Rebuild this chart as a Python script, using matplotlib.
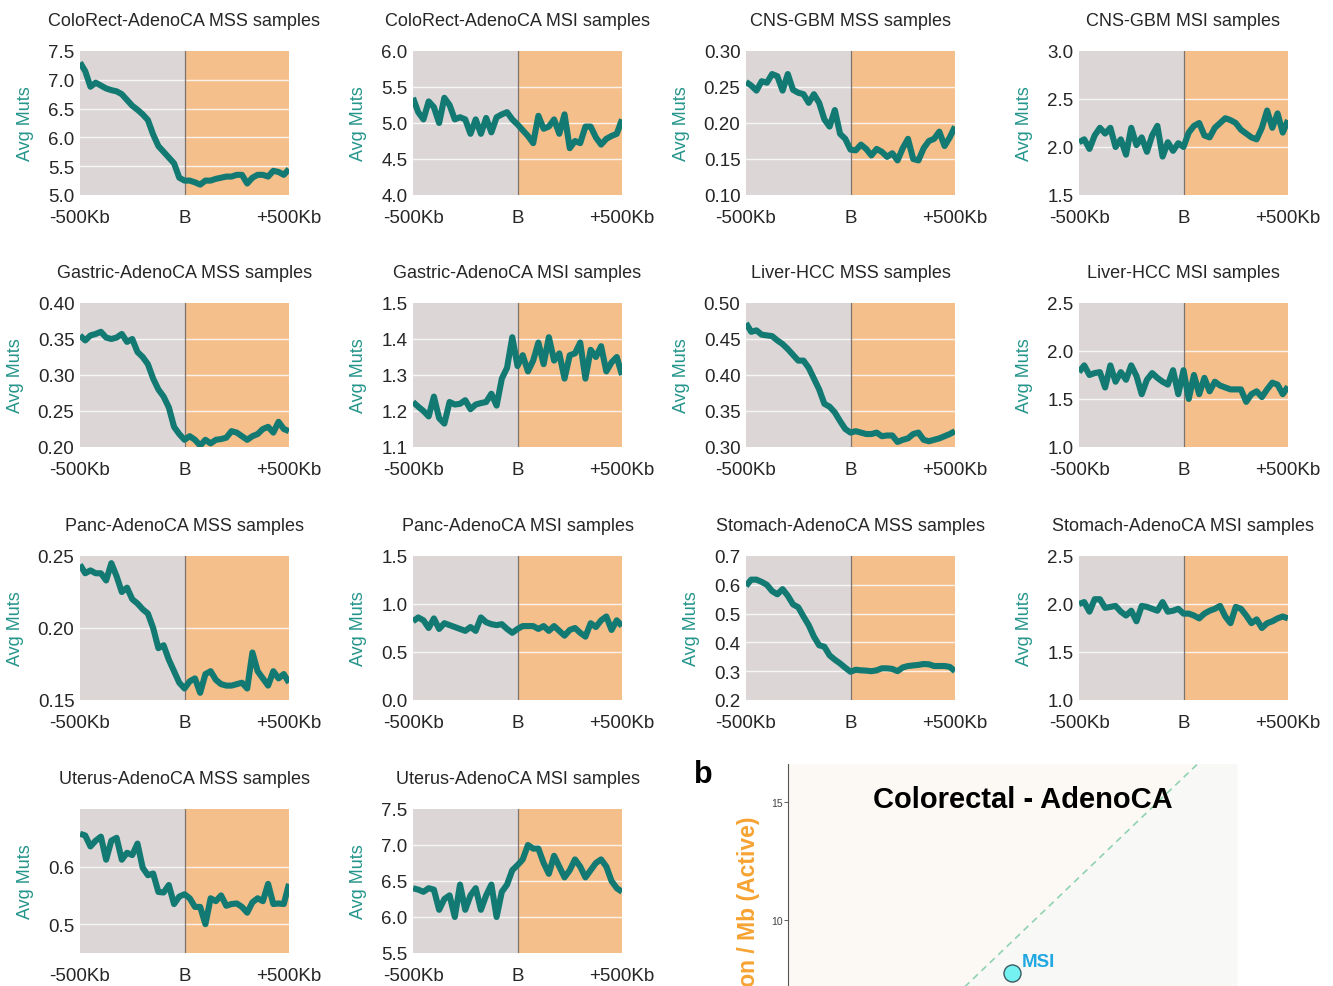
import numpy as np
import matplotlib.pyplot as plt

plt.rcParams['font.family'] = ['Liberation Sans', 'DejaVu Sans']

# distance to the breakpoint (kb), one value every 25 kb
pos_kb = np.arange(-500, 501, 25)

titles = [
    "ColoRect-AdenoCA MSS samples", "ColoRect-AdenoCA MSI samples",
    "CNS-GBM MSS samples", "CNS-GBM MSI samples",
    "Gastric-AdenoCA MSS samples", "Gastric-AdenoCA MSI samples",
    "Liver-HCC MSS samples", "Liver-HCC MSI samples",
    "Panc-AdenoCA MSS samples", "Panc-AdenoCA MSI samples",
    "Stomach-AdenoCA MSS samples", "Stomach-AdenoCA MSI samples",
    "Uterus-AdenoCA MSS samples", "Uterus-AdenoCA MSI samples",
]

ylims = [
    (5.0, 7.5), (4.0, 6.0), (0.10, 0.30), (1.5, 3.0),
    (0.20, 0.40), (1.1, 1.5), (0.30, 0.50), (1.0, 2.5),
    (0.15, 0.25), (0.0, 1.5), (0.2, 0.7), (1.0, 2.5),
    (0.45, 0.70), (5.5, 7.5),
]

ytick_labels = [
    ["5.0", "5.5", "6.0", "6.5", "7.0", "7.5"],
    ["4.0", "4.5", "5.0", "5.5", "6.0"],
    ["0.10", "0.15", "0.20", "0.25", "0.30"],
    ["1.5", "2.0", "2.5", "3.0"],
    ["0.20", "0.25", "0.30", "0.35", "0.40"],
    ["1.1", "1.2", "1.3", "1.4", "1.5"],
    ["0.30", "0.35", "0.40", "0.45", "0.50"],
    ["1.0", "1.5", "2.0", "2.5"],
    ["0.15", "0.20", "0.25"],
    ["0.0", "0.5", "1.0", "1.5"],
    ["0.2", "0.3", "0.4", "0.5", "0.6", "0.7"],
    ["1.0", "1.5", "2.0", "2.5"],
    ["0.5", "0.6"],
    ["5.5", "6.0", "6.5", "7.0", "7.5"],
]

xtick_labels = ["-500Kb", "B", "+500Kb"]

colorect_mss = [7.30, 7.15, 6.88, 6.95, 6.90, 6.85, 6.82, 6.80, 6.75, 6.65,
                6.55, 6.48, 6.40, 6.30, 6.05, 5.85, 5.75, 5.65, 5.55, 5.30,
                5.25, 5.25, 5.22, 5.18, 5.25, 5.25, 5.28, 5.30, 5.32, 5.32,
                5.35, 5.35, 5.20, 5.30, 5.35, 5.35, 5.32, 5.42, 5.40, 5.35, 5.45]
colorect_msi = [5.35, 5.15, 5.05, 5.30, 5.22, 5.00, 5.35, 5.25, 5.05, 5.08,
                5.05, 4.85, 5.05, 4.85, 5.07, 4.87, 5.08, 5.12, 5.15, 5.05,
                4.98, 4.90, 4.82, 4.72, 5.10, 4.92, 4.95, 5.05, 4.85, 5.12,
                4.65, 4.75, 4.72, 4.95, 4.95, 4.80, 4.70, 4.78, 4.82, 4.85, 5.05]
cns_mss = [0.257, 0.252, 0.245, 0.258, 0.256, 0.268, 0.265, 0.245, 0.268, 0.246,
           0.242, 0.240, 0.228, 0.240, 0.228, 0.205, 0.195, 0.218, 0.185, 0.178,
           0.163, 0.162, 0.170, 0.164, 0.155, 0.164, 0.160, 0.153, 0.158, 0.148,
           0.165, 0.178, 0.150, 0.148, 0.165, 0.175, 0.178, 0.188, 0.168, 0.180, 0.195]
cns_msi = [2.05, 2.08, 1.98, 2.12, 2.20, 2.14, 2.20, 2.00, 2.08, 1.92,
           2.20, 2.02, 2.10, 1.95, 2.12, 2.22, 1.90, 2.05, 1.96, 2.04,
           2.00, 2.15, 2.22, 2.25, 2.12, 2.10, 2.20, 2.25, 2.30, 2.28,
           2.25, 2.18, 2.14, 2.10, 2.08, 2.20, 2.38, 2.20, 2.35, 2.15, 2.28]
gastric_mss = [0.355, 0.348, 0.355, 0.357, 0.360, 0.352, 0.350, 0.352, 0.357, 0.346,
               0.350, 0.332, 0.325, 0.315, 0.295, 0.280, 0.270, 0.255, 0.228, 0.218,
               0.210, 0.215, 0.210, 0.202, 0.210, 0.205, 0.210, 0.211, 0.213, 0.222,
               0.220, 0.215, 0.210, 0.215, 0.218, 0.225, 0.228, 0.220, 0.235, 0.225, 0.222]
gastric_msi = [1.225, 1.212, 1.200, 1.185, 1.240, 1.180, 1.165, 1.225, 1.218, 1.220,
               1.230, 1.205, 1.218, 1.222, 1.225, 1.248, 1.215, 1.290, 1.320, 1.405,
               1.325, 1.355, 1.310, 1.340, 1.390, 1.330, 1.405, 1.340, 1.360, 1.290,
               1.355, 1.360, 1.390, 1.290, 1.370, 1.350, 1.380, 1.310, 1.335, 1.350, 1.300]
liver_mss = [0.472, 0.460, 0.462, 0.456, 0.455, 0.454, 0.448, 0.443, 0.436, 0.428,
             0.420, 0.420, 0.410, 0.395, 0.380, 0.360, 0.356, 0.348, 0.336, 0.325,
             0.320, 0.322, 0.320, 0.318, 0.318, 0.320, 0.315, 0.316, 0.316, 0.307,
             0.310, 0.312, 0.318, 0.320, 0.310, 0.308, 0.310, 0.312, 0.315, 0.318, 0.322]
liver_msi = [1.78, 1.85, 1.75, 1.77, 1.78, 1.62, 1.85, 1.68, 1.78, 1.70,
             1.85, 1.74, 1.55, 1.70, 1.77, 1.72, 1.68, 1.65, 1.80, 1.55,
             1.80, 1.50, 1.75, 1.55, 1.72, 1.58, 1.68, 1.64, 1.62, 1.60,
             1.60, 1.60, 1.47, 1.55, 1.58, 1.52, 1.60, 1.67, 1.65, 1.55, 1.63]
panc_mss = [0.244, 0.238, 0.240, 0.238, 0.238, 0.233, 0.245, 0.236, 0.225, 0.228,
            0.220, 0.217, 0.213, 0.210, 0.200, 0.186, 0.188, 0.178, 0.170, 0.162,
            0.158, 0.163, 0.165, 0.155, 0.168, 0.170, 0.164, 0.161, 0.160, 0.160,
            0.161, 0.162, 0.158, 0.183, 0.170, 0.165, 0.160, 0.170, 0.165, 0.168, 0.162]
panc_msi = [0.82, 0.86, 0.83, 0.75, 0.85, 0.74, 0.80, 0.78, 0.76, 0.74,
            0.72, 0.76, 0.72, 0.86, 0.81, 0.79, 0.78, 0.79, 0.74, 0.70,
            0.74, 0.77, 0.77, 0.77, 0.74, 0.77, 0.72, 0.77, 0.72, 0.67,
            0.73, 0.75, 0.70, 0.66, 0.80, 0.76, 0.83, 0.87, 0.73, 0.83, 0.77]
stomach_mss = [0.596, 0.618, 0.618, 0.610, 0.600, 0.578, 0.567, 0.585, 0.562, 0.532,
               0.522, 0.490, 0.460, 0.420, 0.390, 0.385, 0.355, 0.340, 0.327, 0.312,
               0.298, 0.305, 0.303, 0.302, 0.300, 0.303, 0.310, 0.310, 0.308, 0.300,
               0.313, 0.318, 0.320, 0.322, 0.325, 0.324, 0.318, 0.318, 0.318, 0.315, 0.300]
stomach_msi = [2.00, 2.02, 1.92, 2.05, 2.05, 1.96, 1.97, 1.98, 1.92, 1.88,
               1.93, 1.82, 1.98, 1.97, 1.95, 1.93, 2.02, 1.92, 1.93, 1.95,
               1.90, 1.90, 1.88, 1.85, 1.90, 1.93, 1.95, 1.98, 1.87, 1.80,
               1.97, 1.95, 1.88, 1.80, 1.84, 1.75, 1.80, 1.82, 1.85, 1.87, 1.85]
uterus_mss = [0.657, 0.654, 0.635, 0.645, 0.652, 0.612, 0.645, 0.650, 0.612, 0.624,
              0.620, 0.640, 0.598, 0.585, 0.588, 0.556, 0.555, 0.568, 0.535, 0.548,
              0.552, 0.545, 0.530, 0.530, 0.500, 0.545, 0.540, 0.550, 0.532, 0.535,
              0.536, 0.530, 0.520, 0.538, 0.545, 0.540, 0.570, 0.535, 0.536, 0.535, 0.570]
uterus_msi = [6.40, 6.38, 6.35, 6.40, 6.38, 6.10, 6.25, 6.30, 6.00, 6.45,
              6.10, 6.30, 6.40, 6.10, 6.30, 6.45, 6.00, 6.35, 6.45, 6.65,
              6.72, 6.80, 7.00, 6.95, 6.95, 6.75, 6.60, 6.85, 6.70, 6.55,
              6.65, 6.80, 6.70, 6.55, 6.65, 6.75, 6.80, 6.70, 6.50, 6.40, 6.35]

series = [colorect_mss, colorect_msi, cns_mss, cns_msi,
          gastric_mss, gastric_msi, liver_mss, liver_msi,
          panc_mss, panc_msi, stomach_mss, stomach_msi,
          uterus_mss, uterus_msi]

# scatter panel (b)
msi_x = [9.07]
msi_y = [7.75]

W, H = 1333, 987
fig = plt.figure(figsize=(W / 100, H / 100), dpi=100)

teal = "#127a72"
label_teal = "#25958b"
grey_bg = "#dcd7d6"
orange_bg = "#f5bf8c"
text_col = "#262626"

col_left = [80, 413, 746, 1079]
row_top = [52, 304, 557, 810]
ax_w, ax_h = 209, 144

for i, (title, vals) in enumerate(zip(titles, series)):
    r, c = divmod(i, 4)
    left = col_left[c]
    top = row_top[r]
    ax = fig.add_axes([left / W, 1 - (top + ax_h) / H, ax_w / W, ax_h / H])

    # flanks: upstream grey, downstream orange
    ax.axvspan(-500, 0, color=grey_bg, lw=0, zorder=0)
    ax.axvspan(0, 500, color=orange_bg, lw=0, zorder=0)

    lo, hi = ylims[i]
    ticks = [float(t) for t in ytick_labels[i]]
    for t in ticks:
        if lo < t < hi:
            ax.axhline(t, color="white", lw=1.0, alpha=0.8, zorder=1)
    ax.axvline(0, color="#7d7470", lw=0.9, zorder=2)

    ax.plot(pos_kb, vals, color=teal, lw=4.4, solid_joinstyle="round",
            solid_capstyle="butt", zorder=3)

    ax.set_xlim(-500, 500)
    ax.set_ylim(lo, hi)
    ax.set_yticks(ticks)
    ax.set_yticklabels(ytick_labels[i])
    ax.set_xticks([-500, 0, 500])
    ax.set_xticklabels(xtick_labels)
    ax.tick_params(length=0, labelsize=13.5, colors=text_col)
    ax.tick_params(axis="x", pad=10)
    ax.tick_params(axis="y", pad=4)
    for s in ax.spines.values():
        s.set_visible(False)

    ax.set_title(title, fontsize=13, color=text_col, pad=19)
    ax.set_ylabel("Avg Muts", fontsize=13, color=label_teal, labelpad=10)

# panel b: active vs inactive mutation rate scatter
axb = fig.add_axes([788 / W, 1 - 1157 / H, 449 / W, 392 / H])
xmax, ymax = 18.2, 16.6
diag = np.array([0, xmax])
axb.fill_between(diag, diag, ymax, color="#fcf9f4", lw=0, zorder=0)
axb.fill_between(diag, 0, diag, color="#f8f8f7", lw=0, zorder=0)
axb.plot(diag, diag, ls=(0, (4, 3)), color="#8fd3b2", lw=1.2, zorder=1)
axb.scatter(msi_x, msi_y, s=150, color="#74f1f1", edgecolor="#3d5a60",
            lw=1.0, zorder=3)
axb.text(msi_x[0] + 0.4, msi_y[0] + 0.5, "MSI", color="#22a8e0",
         fontsize=13.5, fontweight="bold", ha="left", va="center")
axb.text(0.523, 0.911, "Colorectal - AdenoCA", transform=axb.transAxes,
         fontsize=21, fontweight="bold", ha="center", va="center")
axb.set_xlim(0, xmax)
axb.set_ylim(0, ymax)
axb.set_yticks([0, 5, 10, 15])
axb.set_xticks([])
axb.tick_params(axis="y", length=3, width=0.6, pad=1, labelsize=7.5,
                colors="#444444")
for name in ["top", "right"]:
    axb.spines[name].set_visible(False)
axb.spines["left"].set_color("#555555")
axb.spines["left"].set_linewidth(0.8)

fig.text(748 / W, 1 - 817 / H, "Mutation / Mb (Active)", rotation=90,
         ha="center", va="top", color="#f6a332", fontsize=16.5,
         fontweight="bold")
fig.text(703 / W, 1 - 775 / H, "b", fontsize=22, fontweight="bold",
         ha="center", va="center")

fig.savefig("out.png", dpi=100)
